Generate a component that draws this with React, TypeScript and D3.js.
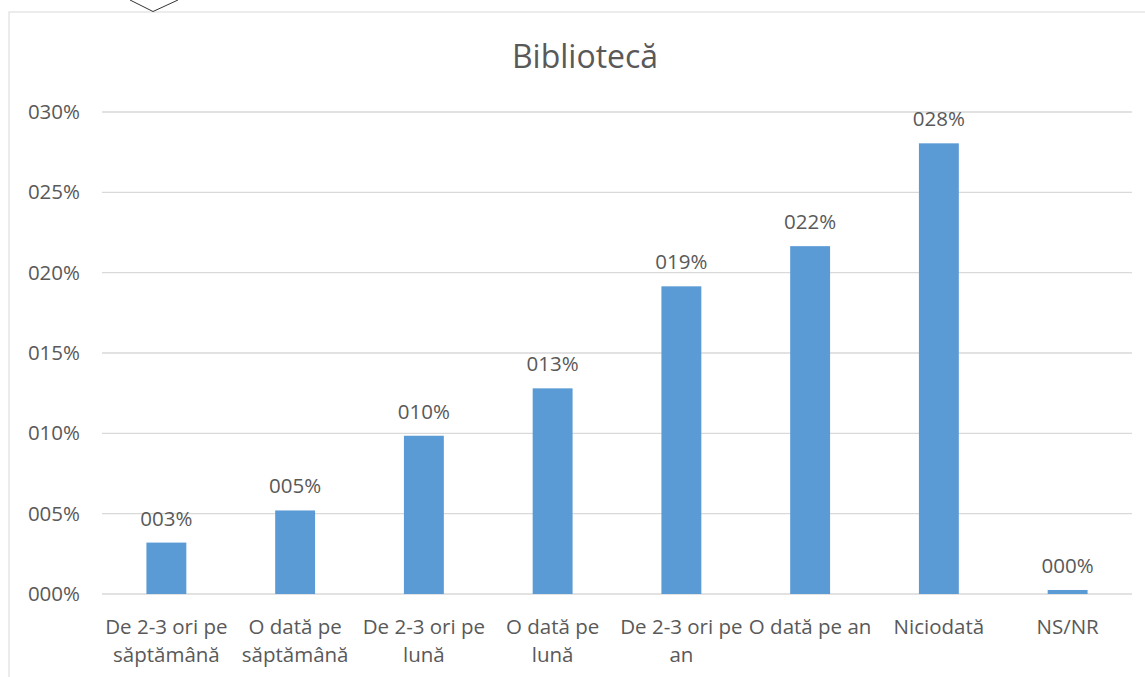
import React from 'react';
import * as d3 from 'd3';

const categories: string[][] = [
  ['De 2-3 ori pe', 'săptămână'],
  ['O dată pe', 'săptămână'],
  ['De 2-3 ori pe', 'lună'],
  ['O dată pe', 'lună'],
  ['De 2-3 ori pe', 'an'],
  ['O dată pe an'],
  ['Niciodată'],
  ['NS/NR'],
];
const values = [3.2, 5.2, 9.85, 12.8, 19.15, 21.65, 28.05, 0.25];
const yTicks = [0, 5, 10, 15, 20, 25, 30];
const title = 'Bibliotecă';

const W = 1145;
const H = 677;
const margin = { top: 112, right: 13, bottom: 83, left: 102 };
const FONT = '"Open Sans", "Liberation Sans", sans-serif';
const TEXT = '#595959';
const BAR = '#5B9BD5';
const GRID = '#D9D9D9';

const pct = (v: number) => d3.format('03.0f')(v) + '%';

export default function App() {
  const x = d3
    .scaleBand<number>()
    .domain(categories.map((_, i) => i))
    .range([margin.left, W - margin.right])
    .paddingInner(0.69)
    .paddingOuter(0.345);

  const y = d3
    .scaleLinear()
    .domain([0, 30])
    .range([H - margin.bottom, margin.top]);

  return (
    <svg
      width={W}
      height={H}
      style={{ position: 'absolute', left: 0, top: 0, display: 'block', background: '#fff' }}
      fontFamily={FONT}
    >
      {/* chart border */}
      <rect x={9} y={12} width={W + 20} height={H + 20} fill="#fff" stroke={GRID} strokeWidth={1} />
      {/* stray shape at the top edge */}
      <path d="M130,0 L153,11.5 L178,0" fill="none" stroke="#333" strokeWidth={1} />

      <text x={585} y={68} textAnchor="middle" fontSize={32} fill={TEXT}>
        {title}
      </text>

      {/* grid + y ticks */}
      {yTicks.map((t) => (
        <g key={t}>
          <line
            x1={margin.left}
            x2={W - margin.right}
            y1={y(t)}
            y2={y(t)}
            stroke={GRID}
            strokeWidth={1.3}
          />
          <text x={80} y={y(t) + 7} textAnchor="end" fontSize={20.5} fill={TEXT}>
            {pct(t)}
          </text>
        </g>
      ))}

      {/* bars */}
      {values.map((v, i) => (
        <rect
          key={i}
          x={x(i)}
          y={y(v)}
          width={x.bandwidth()}
          height={y(0) - y(v)}
          fill={BAR}
        />
      ))}

      {/* data labels */}
      {values.map((v, i) => (
        <text
          key={i}
          x={(x(i) ?? 0) + x.bandwidth() / 2}
          y={y(v) - 17}
          textAnchor="middle"
          fontSize={20.5}
          fill={TEXT}
        >
          {pct(v)}
        </text>
      ))}

      {/* category labels */}
      {categories.map((lines, i) => (
        <text
          key={i}
          x={(x(i) ?? 0) + x.bandwidth() / 2}
          y={634}
          textAnchor="middle"
          fontSize={20.5}
          fill={TEXT}
        >
          {lines.map((l, j) => (
            <tspan key={j} x={(x(i) ?? 0) + x.bandwidth() / 2} dy={j === 0 ? 0 : 28}>
              {l}
            </tspan>
          ))}
        </text>
      ))}
    </svg>
  );
}
